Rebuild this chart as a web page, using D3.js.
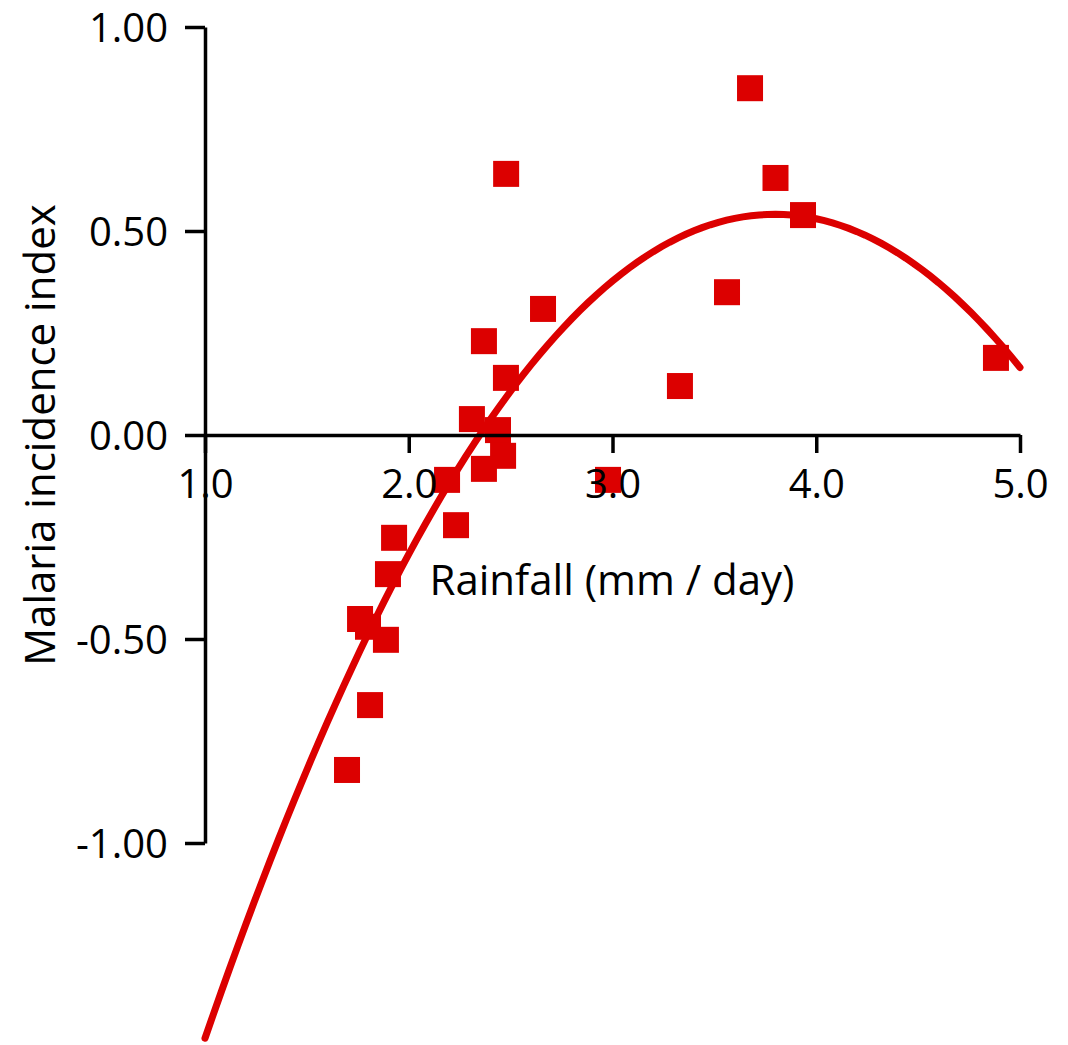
<!DOCTYPE html>
<html>
<head>
<meta charset="utf-8">
<script src="https://cdn.jsdelivr.net/npm/d3@7"></script>
<style>
	body { margin: 0; background: #fff; }
	svg text { font-family: 'Open Sans', 'Noto Sans', sans-serif; fill: #000; }
</style>
</head>
<body>
<svg id="chart"></svg>
<script>
// rainfall (mm/day) and malaria incidence index
const rainfall = [
	3.675, 3.8, 3.935, 3.562, 3.331, 4.882, 2.478, 2.659, 2.369, 2.477,
	2.31, 2.438, 2.463, 2.369, 2.188, 2.978, 2.232, 1.928, 1.898, 1.761,
	1.8, 1.888, 1.81, 1.697,
];
const incidence = [
	0.85, 0.63, 0.539, 0.35, 0.12, 0.189, 0.64, 0.309, 0.23, 0.14,
	0.039, 0.012, -0.051, -0.083, -0.11, -0.11, -0.221, -0.252, -0.341, -0.451,
	-0.47, -0.502, -0.662, -0.821,
];
// quadratic fit y = c0 + c1*x + c2*x^2 (estimated from the drawn curve)
const fitCoef = [-3.182, 1.962, -0.2585];

const xTicks = [1, 2, 3, 4, 5];
const xTickLabels = ['1.0', '2.0', '3.0', '4.0', '5.0'];
const yTicks = [-1, -0.5, 0, 0.5, 1];
const yTickLabels = ['-1.00', '-0.50', '0.00', '0.50', '1.00'];

const width = 1068;
const height = 1045;
const red = '#dc0000';
const markerSize = 26;

const svg = d3.select('#chart').attr('width', width).attr('height', height);

const x = d3.scaleLinear().domain([1, 5]).range([205, 1020]);
const y = d3.scaleLinear().domain([-1, 1]).range([843, 27]);

const points = rainfall.map((r, i) => ({ x: r, y: incidence[i] }));

// markers
svg
	.append('g')
	.selectAll('rect')
	.data(points)
	.join('rect')
	.attr('x', (d) => x(d.x) - markerSize / 2)
	.attr('y', (d) => y(d.y) - markerSize / 2)
	.attr('width', markerSize)
	.attr('height', markerSize)
	.attr('fill', red);

// fitted curve
const fit = (v) => fitCoef[0] + fitCoef[1] * v + fitCoef[2] * v * v;
const curveX = d3.range(0, 101).map((i) => 1 + (4 * i) / 100);
svg
	.append('path')
	.datum(curveX)
	.attr('fill', 'none')
	.attr('stroke', red)
	.attr('stroke-width', 7)
	.attr('stroke-linecap', 'round')
	.attr(
		'd',
		d3
			.line()
			.x((d) => x(d))
			.y((d) => y(fit(d)))
	);

// axes
const xAxis = svg
	.append('g')
	.attr('transform', `translate(0,${y(0)})`)
	.call(
		d3
			.axisBottom(x)
			.tickValues(xTicks)
			.tickFormat((d, i) => xTickLabels[i])
			.tickSize(18)
			.tickSizeOuter(0)
			.tickPadding(17)
	);

const yAxis = svg
	.append('g')
	.attr('transform', `translate(${x(1)},0)`)
	.call(
		d3
			.axisLeft(y)
			.tickValues(yTicks)
			.tickFormat((d, i) => yTickLabels[i])
			.tickSize(20)
			.tickSizeOuter(0)
			.tickPadding(17)
	);

[xAxis, yAxis].forEach((g) => {
	g.attr('font-family', null).attr('font-size', null);
	g.selectAll('.domain, .tick line').attr('stroke', '#000').attr('stroke-width', 3.5);
	g.selectAll('.tick text').style('font-size', '40px');
});
yAxis.selectAll('.tick text').attr('dy', '0.36em');

// axis titles
svg
	.append('text')
	.attr('x', 612)
	.attr('y', 595)
	.attr('text-anchor', 'middle')
	.style('font-size', '42px')
	.text('Rainfall (mm / day)');

svg
	.append('text')
	.attr('transform', 'translate(55,435) rotate(-90)')
	.attr('text-anchor', 'middle')
	.style('font-size', '42px')
	.text('Malaria incidence index');
</script>
</body>
</html>
